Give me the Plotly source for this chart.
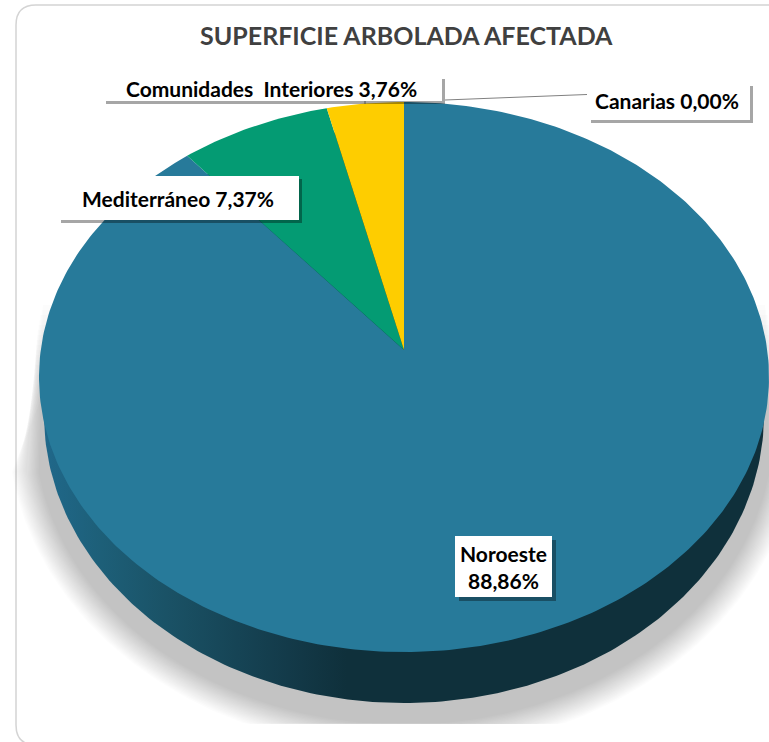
import numpy as np
import plotly.graph_objects as go

# Data
regions = ["Noroeste", "Mediterráneo", "Comunidades\u00a0 Interiores", "Canarias"]
values = [88.86, 7.37, 3.76, 0.00]
slice_colors = ["#277a9a", "#049b73", "#fecd00", "#7f7f7f"]
title_text = "SUPERFICIE ARBOLADA AFECTADA"

W, H = 769, 742
FONT = "Lato, Carlito, Calibri, sans-serif"

# Pie geometry (drawn on an axis that runs in page-like units)
CX, CY, RX, RY = 404.0, 377.0, 365.0, 275.0      # top face
APEX_Y = 350.0                                   # where the slices meet (perspective)
WX, WY, WRX, WRY = 404.0, 415.0, 360.0, 288.0    # bottom rim of the wall
SHADOW_CLIP = 724.0


def ellipse(cx, cy, rx, ry, n=360):
    t = np.linspace(0, 2 * np.pi, n, endpoint=False)
    return cx + rx * np.cos(t), cy + ry * np.sin(t)


def slice_outline(f0, f1):
    n = max(2, int((f1 - f0) * 400))
    th = 2 * np.pi * np.linspace(f0, f1, n)
    k = (APEX_Y - CY) / RY
    ck = np.cos(th) * k
    t = ck + np.sqrt(ck ** 2 - k ** 2 + 1)
    x = CX + RX * np.sin(th) * t
    y = APEX_Y - RY * np.cos(th) * t
    return np.r_[CX, x, CX], np.r_[APEX_Y, y, APEX_Y]


def poly(x, y, **kw):
    return go.Scatter(x=list(x), y=list(y), mode="lines", fill="toself",
                      line=dict(width=0), hoverinfo="skip", showlegend=False, **kw)


fig = go.Figure()

# Soft shadow: stacked translucent fans, clipped at the bottom
layers = np.linspace(36, 10, 20)
for i, d in enumerate(layers):
    s = i / (len(layers) - 1)
    xs, ys = ellipse(WX, WY + 12, WRX + d, WRY + d)
    keep = ys > 470
    order = np.argsort(np.arctan2(ys[keep] - (WY + 12), xs[keep] - WX))
    ax, ay = xs[keep][order], np.minimum(ys[keep][order], SHADOW_CLIP)
    tip_y = 400 - 95 * s
    half = RX * np.sqrt(1 - ((tip_y - CY) / RY) ** 2) + 9 * s
    px = np.r_[ax, CX - half, CX + half]
    py = np.r_[ay, tip_y, tip_y]
    fig.add_trace(poly(px, py, fillcolor="rgba(0,0,0,0.0105)"))

# Wall
wx, wy = ellipse(WX, WY, WRX, WRY)
fig.add_trace(go.Scatter(
    x=list(wx), y=list(wy), mode="lines", fill="toself", line=dict(width=0),
    hoverinfo="skip", showlegend=False,
    fillgradient=dict(type="horizontal", colorscale=[
        [0.0, "#20688a"], [0.08, "#1d5f78"], [0.17, "#1a5266"],
        [0.34, "#133a49"], [0.42, "#0f303b"], [1.0, "#0f303b"]]),
))

# Slices, clockwise from twelve o'clock
total = sum(values)
start = 0.0
for name, val, col in zip(regions, values, slice_colors):
    frac = val / total
    if frac > 0:
        sx, sy = slice_outline(start, start + frac)
        fig.add_trace(poly(sx, sy, fillcolor=col, name=name))
    start += frac


def pct(v):
    return f"{v:.2f}".replace(".", ",") + "%"


boxes = [
    (455, 536, 552, 597, 4, f"{regions[0]}<br>{pct(values[0])}", 503.5, 566.5),
    (58, 176, 299, 220, 3, f"{regions[1]} {pct(values[1])}", 178, 198),
    (103, 76, 442, 101, 3, f"{regions[2]} {pct(values[2])}", 271, 88),
    (588, 83, 750, 120, 3, f"{regions[3]} {pct(values[3])}", 667, 100),
]

shapes = [dict(
    type="path", layer="below",
    path="M 16 25 Q 16 5 36 5 L 780 5 M 16 25 L 16 725 Q 16 745 36 745",
    line=dict(color="#d4d4d4", width=1.5)),
    dict(type="line", x0=587, y0=94.5, x1=445, y1=100, line=dict(color="#808080", width=1)),
    dict(type="line", x0=365, y0=100, x1=365, y1=104, line=dict(color="#808080", width=1)),
]
annotations = [dict(
    x=406.5, y=35, text=f"<b>{title_text}</b>", showarrow=False,
    xanchor="center", yanchor="middle",
    font=dict(family=FONT, size=25, color="#404040"))]

for x0, y0, x1, y1, off, text, tx, ty in boxes:
    shapes.append(dict(type="rect", x0=x0 + off, y0=y0 + off, x1=x1 + off, y1=y1 + off,
                       fillcolor="rgba(0,0,0,0.35)", line=dict(width=0)))
    shapes.append(dict(type="rect", x0=x0, y0=y0, x1=x1, y1=y1,
                       fillcolor="#ffffff", line=dict(width=0)))
    annotations.append(dict(x=tx, y=ty, text=f"<b>{text}</b>", showarrow=False,
                            xanchor="center", yanchor="middle", align="center",
                            font=dict(family=FONT, size=21, color="#000000")))

fig.update_layout(
    width=W, height=H, margin=dict(l=0, r=0, t=0, b=0),
    paper_bgcolor="#ffffff", plot_bgcolor="#ffffff", showlegend=False,
    xaxis=dict(range=[0, W], visible=False, fixedrange=True),
    yaxis=dict(range=[H, 0], visible=False, fixedrange=True),
    shapes=shapes, annotations=annotations,
)
fig.write_html("out.html", config={"displayModeBar": False},
               post_script="document.body.style.margin='0';")
